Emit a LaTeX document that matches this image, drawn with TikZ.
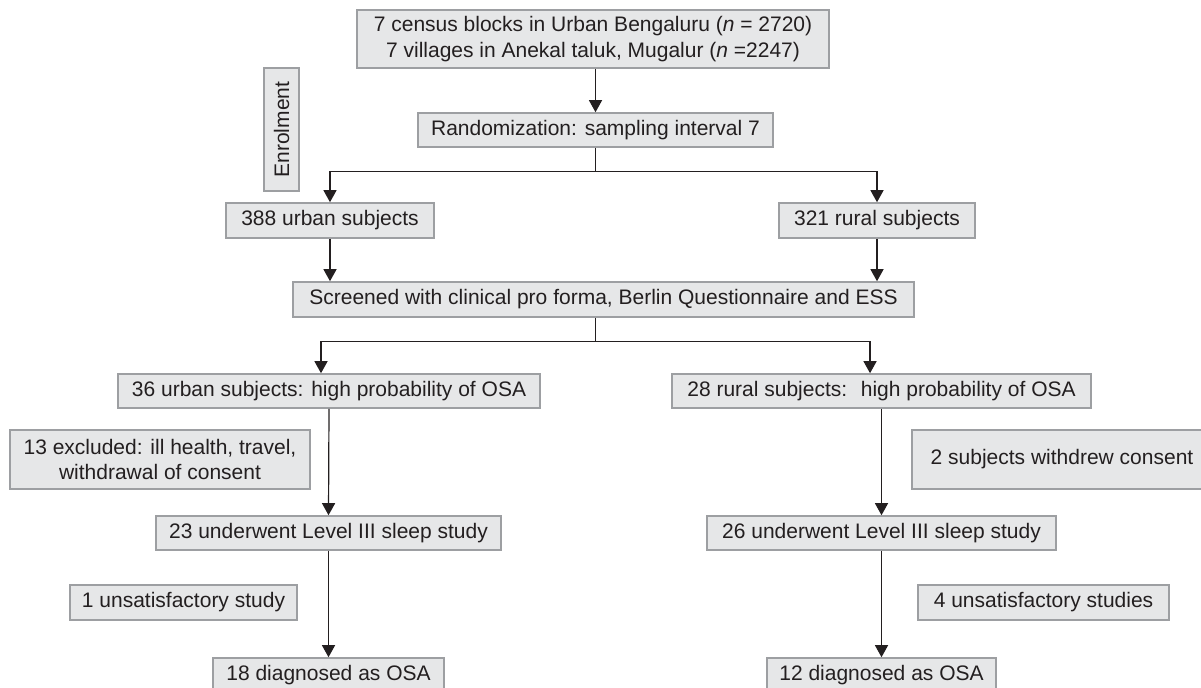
\documentclass[tikz,border=0pt]{standalone}
\usepackage{fontspec}
\setmainfont{Liberation Sans}
\usetikzlibrary{arrows.meta}
\definecolor{boxfill}{HTML}{E6E7E8}
\definecolor{boxline}{HTML}{9D9FA2}
\definecolor{ink}{HTML}{231F20}
\begin{document}
\begin{tikzpicture}[x=0.75pt,y=-0.75pt,
  box/.style 2 args={draw=boxline,fill=boxfill,line width=1.2pt,inner sep=0pt,
    minimum width=#1*0.75pt,minimum height=#2*0.75pt,text=ink,align=center,
    font=\fontsize{15.75}{19}\selectfont},
  conn/.style={draw=ink,line width=0.9pt},
  arr/.style={conn,-{Triangle[width=9.75pt,length=9pt]}}]
\useasboundingbox (0,0) rectangle (1201,687);
% nodes
\node[box={472}{58}] (top) at (593,39) {7 census blocks in Urban Bengaluru (\textit{n} = 2720)\\7 villages in Anekal taluk, Mugalur (\textit{n} =2247)};
\node[box={355}{34}] (rand) at (595.5,130) {Randomization: sampling interval 7};
\node[box={35}{123}] (enrol) at (281.5,129.5) {\rotatebox{90}{Enrolment}};
\node[box={208}{35}] (u1) at (330,220.5) {388 urban subjects};
\node[box={196}{35}] (r1) at (877,220.5) {321 rural subjects};
\node[box={621}{35}] (screen) at (603.5,299.5) {Screened with clinical pro forma, Berlin Questionnaire and ESS};
\node[box={422}{34}] (u2) at (329,391) {36 urban subjects: high probability of OSA};
\node[box={419}{34}] (r2) at (881.5,391) {28 rural subjects: \ high probability of OSA};
\node[box={300}{59}] (ex1) at (160,459.5) {13 excluded: ill health, travel,\\withdrawal of consent};
\node[box={300}{59}] (ex2) at (1062,459.5) {2 subjects withdrew consent};
\node[box={345}{34}] (u3) at (328.5,533) {23 underwent Level III sleep study};
\node[box={349}{34}] (r3) at (881.5,533) {26 underwent Level III sleep study};
\node[box={227}{35}] (ex3) at (183.5,602.5) {1 unsatisfactory study};
\node[box={251}{35}] (ex4) at (1043.5,602.5) {4 unsatisfactory studies};
\node[box={231}{35}] (u4) at (328.5,675.5) {18 diagnosed as OSA};
\node[box={229}{35}] (r4) at (881.5,675.5) {12 diagnosed as OSA};
% connectors
\draw[arr] (rand.north |- top.south) -- (rand.north);
\draw[conn] (rand.south) -- ++(0,24) coordinate (b1);
\draw[arr] (b1) -| (u1.north);
\draw[arr] (b1) -| (r1.north);
\draw[arr] (u1.south) -- (u1.south |- screen.north);
\draw[arr] (r1.south) -- (r1.south |- screen.north);
\draw[conn] (screen.south -| rand.south) -- ++(0,24) coordinate (b2);
\draw[arr] (b2) -| ([xshift=-6pt]u2.north);
\draw[arr] (b2) -| ([xshift=-8.6pt]r2.north);
\draw[arr] (u2.south) -- (u3.north);
\draw[arr] (u3.south) -- (u4.north);
\draw[arr] (r2.south) -- (r3.north);
\draw[arr] (r3.south) -- (r4.north);
\end{tikzpicture}
\end{document}
